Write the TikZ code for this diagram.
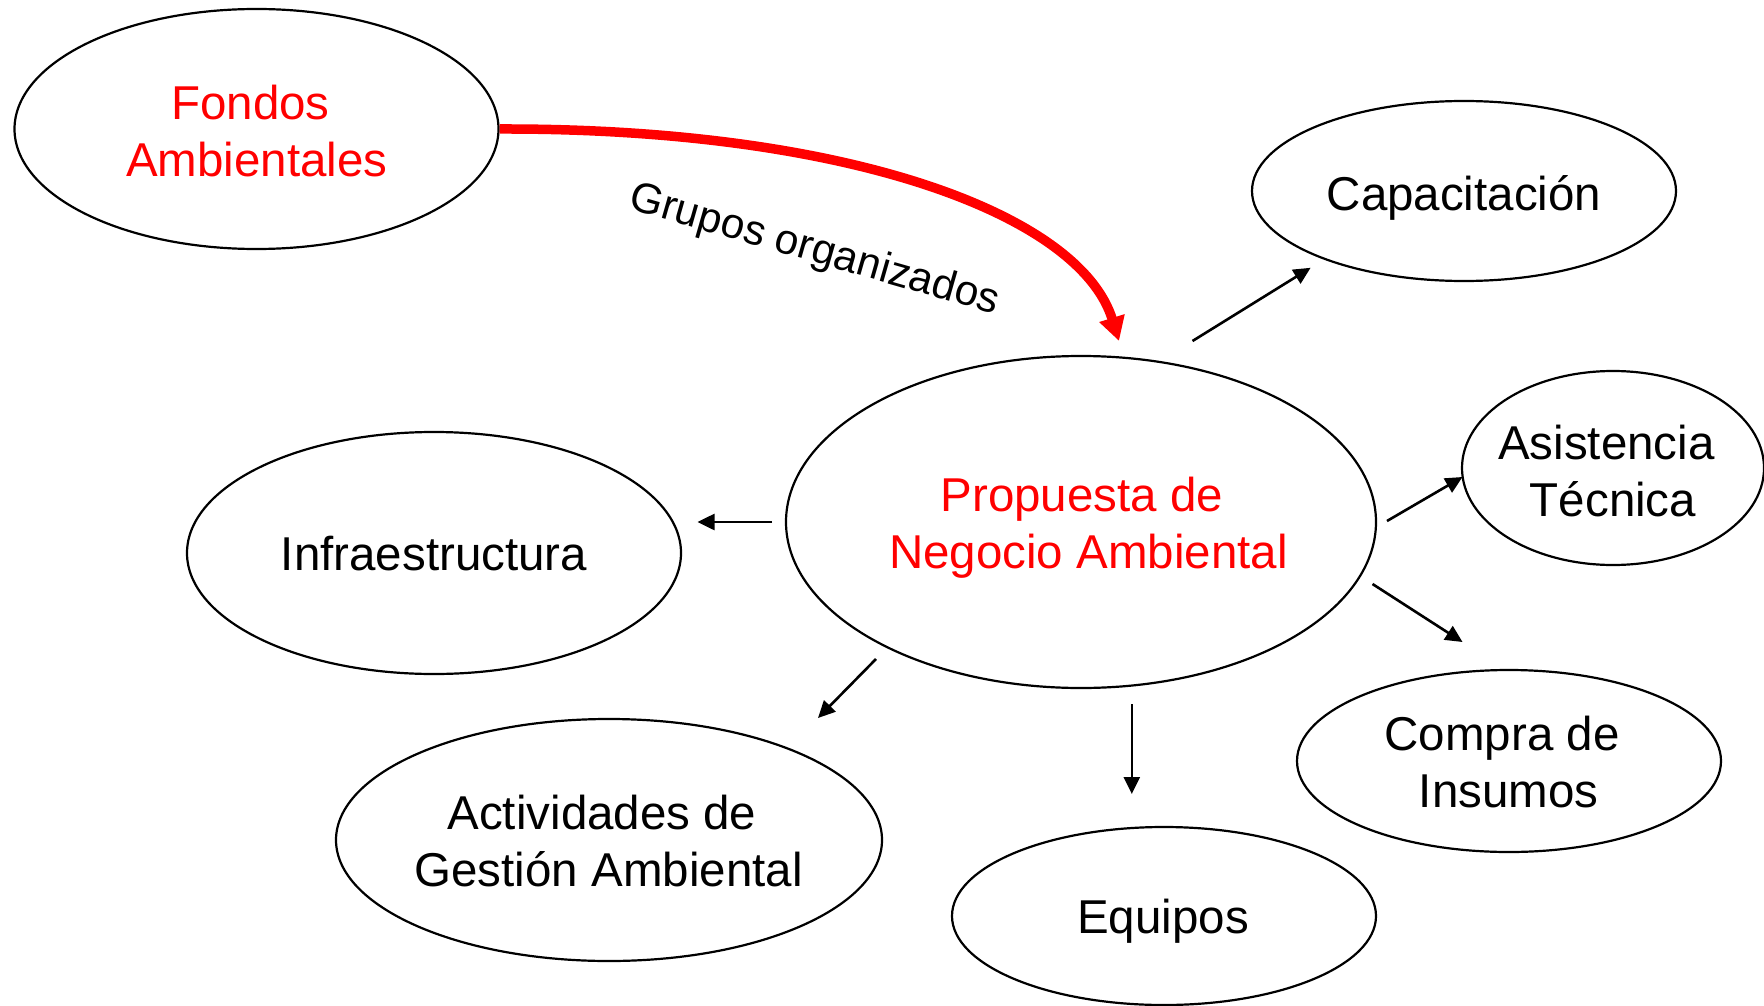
\documentclass[tikz,border=0pt]{standalone}
\usepackage{fontspec}
\setmainfont{Liberation Sans}
\usetikzlibrary{shapes.geometric,arrows.meta}
\begin{document}
\begin{tikzpicture}[x=1pt,y=-1pt,
  oval/.style={draw=black,line width=2.2pt,ellipse,inner sep=0pt},
  lbl/.style={align=center,inner sep=0pt,font=\fontsize{47.5}{57}\selectfont},
  redlbl/.style={lbl,text=red},
  conn/.style={line width=2.6pt,-{Triangle[length=17pt,width=16pt]}},
  redconn/.style={draw=red,line width=9.5pt,-{Triangle[length=24pt,width=25pt]}}]
\useasboundingbox (0,0) rectangle (1764,1006);
% ellipses
\node[oval,minimum width=484pt,minimum height=240pt] (fondos) at (256.5,129) {};
\node[oval,minimum width=424pt,minimum height=180pt] (capac) at (1464,191) {};
\node[oval,minimum width=302pt,minimum height=194pt] (asist) at (1613,468) {};
\node[oval,minimum width=590pt,minimum height=332pt] (prop) at (1081,522) {};
\node[oval,minimum width=494pt,minimum height=242pt] (infra) at (434,553) {};
\node[oval,minimum width=424pt,minimum height=182pt] (compra) at (1509,761) {};
\node[oval,minimum width=546pt,minimum height=242pt] (activ) at (609,840) {};
\node[oval,minimum width=424pt,minimum height=178pt] (equip) at (1164,916) {};
% texts
\node[redlbl] (fondosT) at (257,131) {Fondos\kern13.2pt\\Ambientales};
\node[lbl] (capacT) at (1464,197.5) {Capacitación};
\node[lbl] (asistT) at (1613,471) {Asistencia\kern13.2pt\\Técnica};
\node[redlbl] (propT) at (1088.4,527.5) {Propuesta de\kern13.2pt\\Negocio Ambiental};
\node[lbl] (infraT) at (434,554) {Infraestructura};
\node[lbl] (compraT) at (1508.6,762) {Compra de\kern13.2pt\\Insumos};
\node[lbl] (activT) at (608.6,841) {Actividades de\kern13.2pt\\Gestión Ambiental};
\node[lbl] (equipT) at (1163,921.5) {Equipos};
\node[inner sep=0pt,font=\fontsize{42.5}{50}\selectfont,rotate=-16] (grupos) at (814.5,251) {Grupos organizados};
% connector end points
\coordinate (c1a) at (1192.5,341);  \coordinate (c1b) at (1310.6,267.8);
\coordinate (c2a) at (1387,521);    \coordinate (c2b) at (1462.5,477);
\coordinate (c3a) at (1372.5,584);  \coordinate (c3b) at (1462.5,642);
\coordinate (c4a) at (1131.8,704);  \coordinate (c4b) at (1131.8,794);
\coordinate (c5a) at (876,659);     \coordinate (c5b) at (818,718);
\coordinate (c6a) at (772,522);     \coordinate (c6b) at (697.5,522);
\coordinate (r0) at (fondos.east);  \coordinate (r1) at (1119,341);
% connectors
\draw[conn] (c1a) -- (c1b);
\draw[conn] (c2a) -- (c2b);
\draw[conn] (c3a) -- (c3b);
\draw[conn] (c4a) -- (c4b);
\draw[conn] (c5a) -- (c5b);
\draw[conn] (c6a) -- (c6b);
\draw[redconn] (r0) .. controls (850,128) and (1080,215) .. (r1);
\end{tikzpicture}
\end{document}
